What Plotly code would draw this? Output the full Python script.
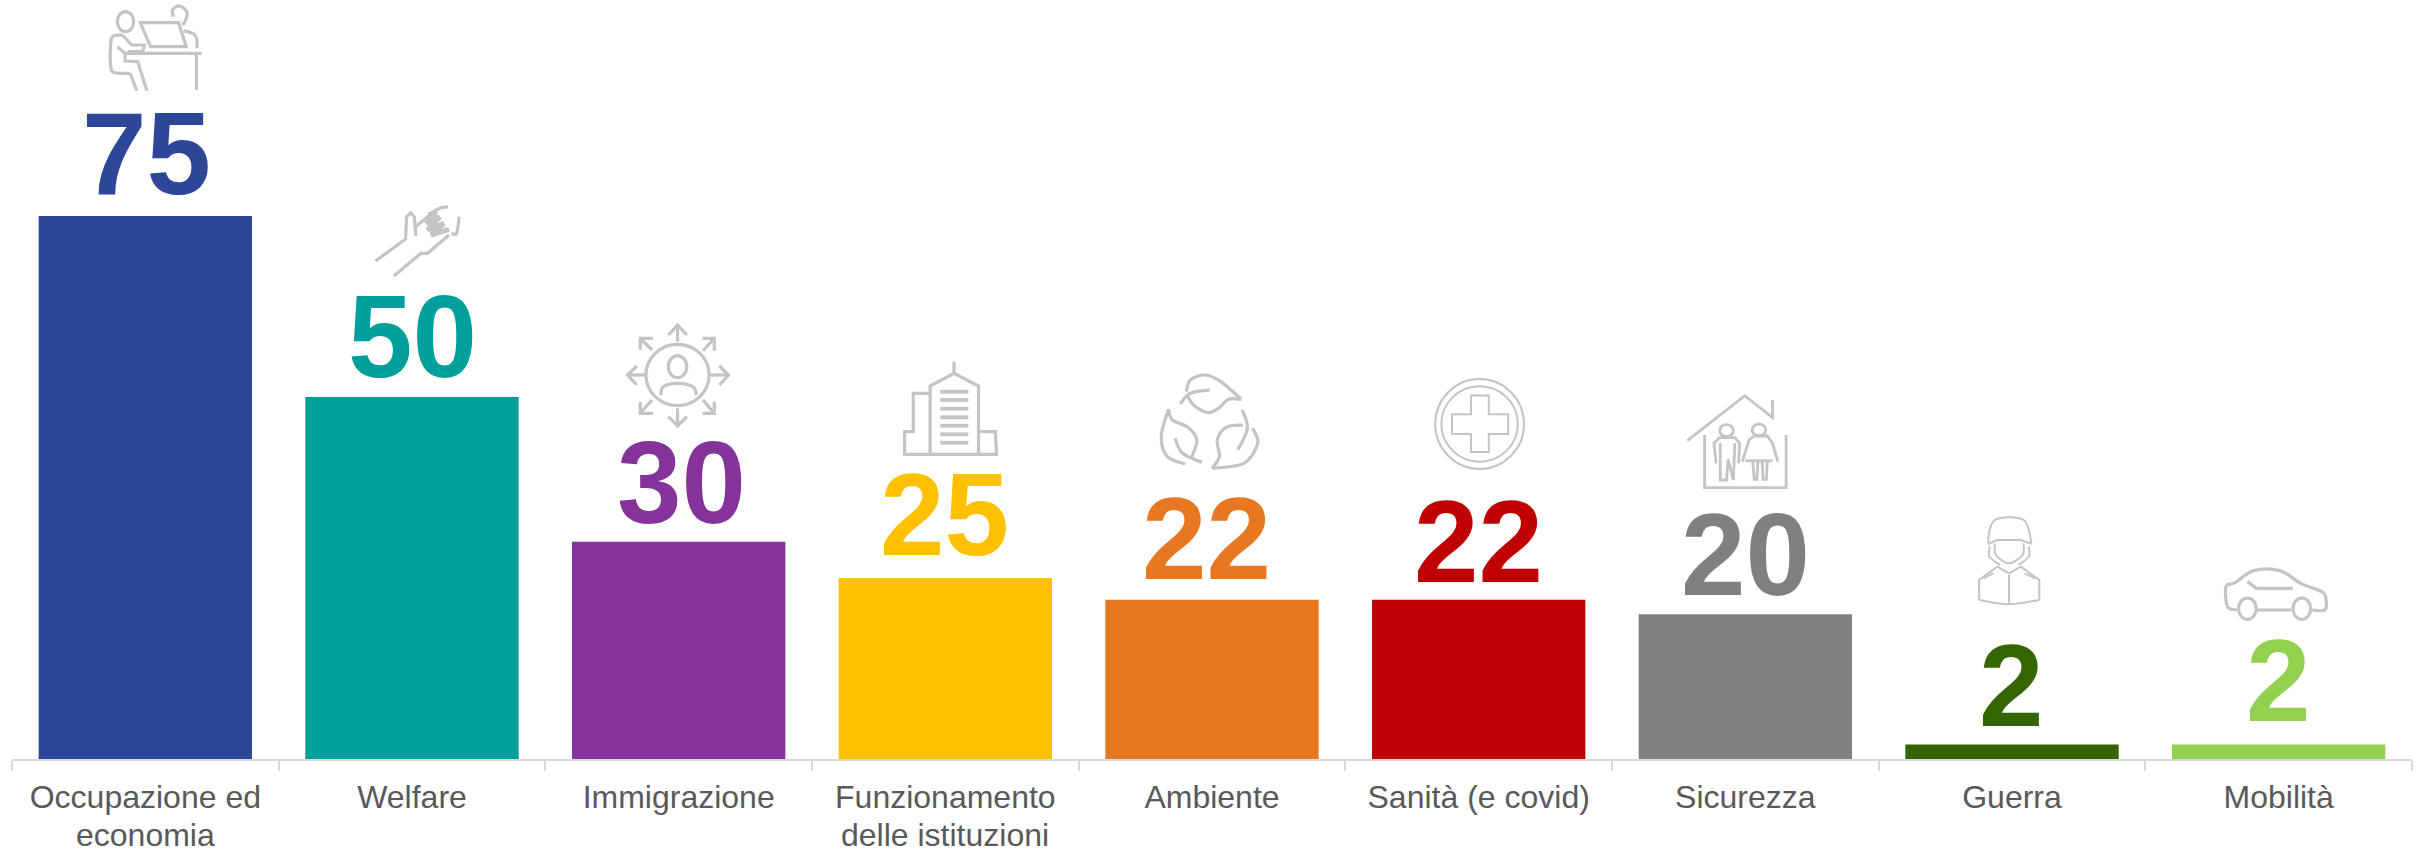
import plotly.graph_objects as go

# ---- data ----
categories = ["Occupazione ed economia", "Welfare", "Immigrazione", "Funzionamento delle istituzioni",
              "Ambiente", "Sanità (e covid)", "Sicurezza", "Guerra", "Mobilità"]
tick_first_lines = ["Occupazione ed", "Welfare", "Immigrazione", "Funzionamento",
                    "Ambiente", "Sanità (e covid)", "Sicurezza", "Guerra", "Mobilità"]
tick_second_lines = ["economia", "", "", "delle istituzioni", "", "", "", "", ""]
values = [75, 50, 30, 25, 22, 22, 20, 2, 2]
colors = ["#2E4698", "#009E9C", "#833399", "#FFC000", "#E87722", "#C00000", "#808080", "#336600", "#92D050"]
label_gaps = [20, 18.5, 16.5, 21.5, 19, 16, 17.5, 17, 22]
label_xshifts = [1, 0, 3, -1, -6, 0, 0, -1, 0]

# ---- layout constants (pixels) ----
W, H = 2420, 849
LEFT, RIGHT_EDGE, AXIS_Y = 12, 2412, 759
PX_PER_UNIT = 7.24
ICON_COLOR = "#C4C4C4"
BAND = (RIGHT_EDGE - LEFT) / 9


def curve(pts, closed=False):
    """Catmull-Rom spline through pts as an SVG path (pts are reference pixels)."""
    p = list(pts)
    n = len(p)
    d = f"M{p[0][0]:.1f},{p[0][1]:.1f}"
    segs = n if closed else n - 1
    for i in range(segs):
        if closed:
            p0, p1, p2, p3 = p[(i - 1) % n], p[i], p[(i + 1) % n], p[(i + 2) % n]
        else:
            p0, p1, p2, p3 = p[max(i - 1, 0)], p[i], p[i + 1], p[min(i + 2, n - 1)]
        c1 = (p1[0] + (p2[0] - p0[0]) / 6, p1[1] + (p2[1] - p0[1]) / 6)
        c2 = (p2[0] - (p3[0] - p1[0]) / 6, p2[1] - (p3[1] - p1[1]) / 6)
        d += f"C{c1[0]:.1f},{c1[1]:.1f} {c2[0]:.1f},{c2[1]:.1f} {p2[0]:.1f},{p2[1]:.1f}"
    return d + ("Z" if closed else "")


def poly(pts, closed=False):
    d = "M" + "L".join(f"{x:.1f},{y:.1f}" for x, y in pts)
    return d + ("Z" if closed else "")


def ell(cx, cy, rx, ry):
    k = 0.5523
    return (f"M{cx-rx},{cy}C{cx-rx},{cy-k*ry} {cx-k*rx},{cy-ry} {cx},{cy-ry}"
            f"C{cx+k*rx},{cy-ry} {cx+rx},{cy-k*ry} {cx+rx},{cy}"
            f"C{cx+rx},{cy+k*ry} {cx+k*rx},{cy+ry} {cx},{cy+ry}"
            f"C{cx-k*rx},{cy+ry} {cx-rx},{cy+k*ry} {cx-rx},{cy}Z")


def to_full(pts, sx, sy, ox, oy):
    return [(ox + x / sx, oy + y / sy) for x, y in pts]


def anchored_path(fn, pts, idx, *a, scale=None):
    """Return a path string in pixels relative to the anchor of bar idx (y up)."""
    sx, sy, ox, oy = scale
    cx = LEFT + BAND * (idx + 0.5)
    top = AXIS_Y - values[idx] * PX_PER_UNIT
    rel = [(x - cx, top - y) for x, y in to_full(pts, sx, sy, ox, oy)]
    return fn(rel, *a)


def anchored_ell(cx, cy, rx, ry, idx, scale):
    sx, sy, ox, oy = scale
    c = LEFT + BAND * (idx + 0.5)
    top = AXIS_Y - values[idx] * PX_PER_UNIT
    return ell(ox + cx / sx - c, top - (oy + cy / sy), rx / sx, ry / sy)


Z1 = (1.96, 3, 0, 0)
Z2 = (1.96, 3, 800, 340)
Z3 = (1568 / 820, 3, 1600, 370)


def P(idx, scale, pts, closed=False):
    return anchored_path(poly, pts, idx, closed, scale=scale)


def C(idx, scale, pts, closed=False):
    return anchored_path(curve, pts, idx, closed, scale=scale)


def E(idx, scale, cx, cy, rx, ry):
    return anchored_ell(cx, cy, rx, ry, idx, scale)


icon_strokes = []  # (bar index, path, line width)


def add(idx, path, width=3.2):
    icon_strokes.append((idx, path, width))


# 0 person at desk
for d in [E(0, Z1, 246, 65, 16, 30),
          C(0, Z1, [(340, 50), (338, 30), (352, 18), (366, 35), (364, 60), (358, 75)]),
          P(0, Z1, [(275, 68), (350, 68), (365, 140), (295, 140)], True),
          C(0, Z1, [(360, 92), (380, 102), (386, 120), (386, 145)]),
          P(0, Z1, [(245, 160), (395, 160)]), P(0, Z1, [(385, 165), (385, 270)]),
          C(0, Z1, [(240, 105), (222, 108), (217, 130), (217, 200), (225, 218), (255, 220)]),
          P(0, Z1, [(255, 220), (268, 272)]),
          P(0, Z1, [(240, 105), (258, 135), (283, 135), (280, 155), (250, 155)]),
          P(0, Z1, [(230, 140), (245, 160), (245, 183), (270, 185), (288, 272)])]:
    add(0, d)
# 1 handshake
for d in [P(1, Z1, [(736, 783), (795, 717), (797, 650), (805, 638), (812, 650), (815, 708)]),
          C(1, Z1, [(815, 680), (855, 630), (878, 620)]),
          P(1, Z1, [(772, 828), (825, 760), (838, 760), (880, 705)]),
          C(1, Z1, [(885, 700), (895, 700), (900, 650)])]:
    add(1, d)
add(1, P(1, Z1, [(840, 645), (855, 635), (835, 670), (862, 650), (838, 690), (870, 670), (845, 705), (880, 688)]), 5)
# 2 person with arrows
for d in [E(2, Z1, 1328, 1125, 62, 92), E(2, Z1, 1328, 1100, 18, 33),
          C(2, Z1, [(1295, 1185), (1300, 1160), (1328, 1150), (1358, 1160), (1365, 1185)])]:
    add(2, d)
arrows = [[(1328, 1025), (1328, 975), (1310, 1005), (1346, 1005)],
          [(1328, 1225), (1328, 1278), (1310, 1250), (1346, 1250)],
          [(1265, 1125), (1230, 1125), (1248, 1098), (1248, 1155)],
          [(1392, 1125), (1428, 1125), (1410, 1098), (1410, 1155)],
          [(1278, 1050), (1255, 1015), (1255, 1050), (1280, 1015)],
          [(1378, 1052), (1400, 1015), (1400, 1052), (1377, 1015)],
          [(1278, 1200), (1255, 1240), (1255, 1205), (1280, 1240)],
          [(1378, 1200), (1400, 1240), (1400, 1205), (1377, 1240)]]
for a, b, c, e in arrows:
    add(2, P(2, Z1, [a, b]))
    add(2, P(2, Z1, [c, b, e]))
# 3 building
for d in [P(3, Z2, [(302, 65), (302, 100)]), P(3, Z2, [(255, 345), (255, 138), (302, 100), (350, 138), (350, 345)]),
          P(3, Z2, [(255, 160), (222, 160), (222, 275), (205, 275), (205, 343), (385, 343), (383, 275), (350, 275)])]:
    add(3, d)
for fy in [155, 180, 206, 232, 257, 283, 308]:
    add(3, P(3, Z2, [(275, fy), (330, fy)]), 3.8)
# 4 leaves
for d in [C(4, Z2, [(757, 155), (765, 120), (795, 105), (825, 125), (865, 178)]),
          C(4, Z2, [(865, 178), (840, 178), (820, 205), (800, 218), (775, 200), (760, 170)]),
          C(4, Z2, [(745, 192), (765, 160), (803, 150)]),
          C(4, Z2, [(722, 208), (730, 240), (760, 262), (778, 300), (768, 350)]),
          C(4, Z2, [(722, 208), (708, 290), (720, 350), (755, 372)]),
          C(4, Z2, [(735, 295), (750, 340), (788, 367)]),
          C(4, Z2, [(867, 210), (877, 265), (858, 330)]),
          C(4, Z2, [(868, 255), (835, 262), (818, 300), (822, 350), (808, 385)]),
          C(4, Z2, [(808, 385), (870, 370), (897, 310), (887, 265)])]:
    add(4, d)
# 5 medical cross
add(5, E(5, Z2, 1332, 252, 87, 135), 2)
add(5, E(5, Z2, 1332, 252, 75, 113), 2)
add(5, P(5, Z2, [(1315, 167), (1350, 167), (1350, 223), (1388, 223), (1388, 282), (1350, 282), (1350, 336),
                 (1315, 336), (1315, 282), (1278, 282), (1278, 223), (1315, 223)], True), 2)
# 6 house with couple
for d in [P(6, Z3, [(167, 212), (277, 77), (330, 143), (330, 90)]),
          P(6, Z3, [(200, 195), (200, 353), (356, 353), (356, 195)]),
          E(6, Z3, 242, 182, 13, 18), E(6, Z3, 304, 180, 13, 18),
          P(6, Z3, [(222, 280), (218, 220), (228, 203), (258, 203), (267, 220), (265, 280)]),
          P(6, Z3, [(230, 220), (230, 330), (242, 330), (245, 268), (255, 330), (258, 220)]),
          P(6, Z3, [(272, 275), (285, 210), (295, 198), (320, 198), (330, 220), (340, 275)]),
          P(6, Z3, [(278, 272), (330, 272)]),
          P(6, Z3, [(292, 275), (295, 328), (300, 328), (302, 275)]),
          P(6, Z3, [(310, 275), (312, 328), (318, 328), (320, 275)])]:
    add(6, d, 2.8)
# 7 soldier
for d in [C(7, Z3, [(742, 520), (745, 480), (755, 450), (782, 442), (810, 450), (820, 480), (825, 520)]),
          P(7, Z3, [(742, 522), (760, 510), (805, 510), (825, 522)]),
          C(7, Z3, [(755, 520), (757, 555), (782, 580), (808, 555), (810, 520)]),
          C(7, Z3, [(745, 530), (745, 560), (765, 585)]), C(7, Z3, [(820, 530), (820, 560), (800, 585)]),
          P(7, Z3, [(725, 690), (725, 630), (760, 590), (782, 610), (805, 590), (840, 630), (840, 690)]),
          C(7, Z3, [(725, 690), (780, 703), (840, 690)]),
          P(7, Z3, [(782, 615), (782, 700)]), P(7, Z3, [(733, 625), (752, 610)]), P(7, Z3, [(832, 625), (812, 610)])]:
    add(7, d, 2)
# 8 car
for d in [C(8, Z3, [(1218, 720), (1200, 710), (1197, 650), (1215, 638), (1250, 602), (1300, 602), (1340, 640),
                    (1380, 665), (1388, 685), (1386, 720), (1362, 720)]),
          P(8, Z3, [(1255, 720), (1322, 720)]),
          E(8, Z3, 1238, 716, 17, 32), E(8, Z3, 1342, 716, 17, 32),
          P(8, Z3, [(1238, 635), (1255, 655), (1325, 655)])]:
    add(8, d)

fig = go.Figure(go.Bar(x=categories, y=values, marker=dict(color=colors, line_width=0), hoverinfo="x+y"))

annotations = []
for cat, val, col, gap, dx in zip(categories, values, colors, label_gaps, label_xshifts):
    annotations.append(dict(x=cat, y=val, xref="x", yref="y", text=str(val), showarrow=False,
                            xanchor="center", yanchor="bottom", yshift=gap - 25, xshift=dx,
                            font=dict(family="Liberation Sans", size=116, color=col, weight="bold")))
for cat, line in zip(categories, tick_second_lines):
    if line:
        annotations.append(dict(x=cat, y=0, xref="x", yref="paper", text=line, showarrow=False,
                                xanchor="center", yanchor="top", yshift=-56,
                                font=dict(family="Liberation Sans", size=32, color="#595959")))

shapes = []
for idx, path, width in icon_strokes:
    shapes.append(dict(type="path", path=path, xref="x", yref="y",
                       xsizemode="pixel", ysizemode="pixel",
                       xanchor=categories[idx], yanchor=values[idx],
                       line=dict(color=ICON_COLOR, width=width), layer="above"))

fig.update_layout(
    width=W, height=H, margin=dict(l=LEFT, r=W - RIGHT_EDGE, t=0, b=H - AXIS_Y, pad=0),
    paper_bgcolor="white", plot_bgcolor="white", showlegend=False, bargap=0.2,
    annotations=annotations, shapes=shapes,
    xaxis=dict(type="category", categoryorder="array", categoryarray=categories,
               tickmode="array", tickvals=categories, ticktext=tick_first_lines,
               tickson="boundaries", ticks="outside", ticklen=10, tickwidth=1.5, tickcolor="#D9D9D9",
               showline=True, linecolor="#D9D9D9", linewidth=1.5, showgrid=False, zeroline=False,
               ticklabelstandoff=9,
               tickfont=dict(family="Liberation Sans", size=32, color="#595959")),
    yaxis=dict(range=[0, AXIS_Y / PX_PER_UNIT], visible=False, showgrid=False, zeroline=False),
)

fig.write_html("out.html", config={"displayModeBar": False},
               post_script="document.body.style.margin='0';")
